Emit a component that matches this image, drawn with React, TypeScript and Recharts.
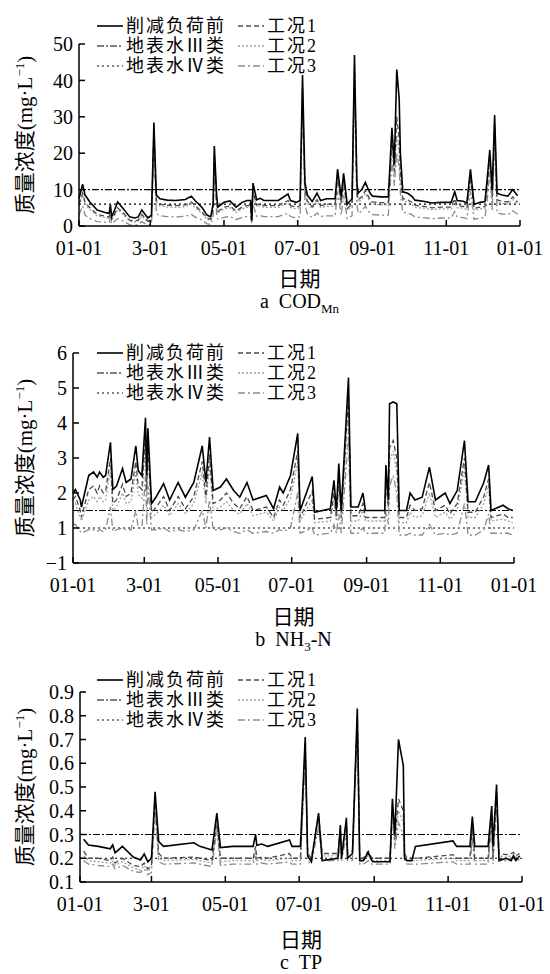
import React from "react"
import { LineChart, Line, XAxis, YAxis, ReferenceLine, Legend } from "recharts"

const FONT = '"Liberation Serif", "Noto Sans CJK SC", serif'

const monthTicks = [0, 59, 120, 181, 243, 304, 365]
const monthLabels = ["01-01", "3-01", "05-01", "07-01", "09-01", "11-01", "01-01"]

// a  COD_Mn
const codDays = [0, 3, 5, 9, 15, 23, 25, 26, 27, 29,
  32, 36, 42, 46, 49, 52, 57, 60, 62, 64,
  67, 73, 80, 88, 93, 96, 102, 106, 109, 111,
  112, 114, 115, 120, 125, 130, 135, 139, 142, 143,
  144, 147, 150, 153, 165, 173, 175, 180, 183, 185,
  187, 189, 193, 197, 200, 205, 212, 214, 217, 219,
  222, 226, 228, 230, 231, 234, 237, 239, 241, 243,
  250, 256, 259, 261, 263, 265, 266, 268, 272, 276,
  278, 285, 292, 300, 308, 311, 313, 318, 321, 324,
  327, 332, 336, 338, 340, 342, 344, 346, 350, 355,
  359, 363]
const codBefore = [7.5, 11.5, 8.5, 6.6, 4.4, 3.6, 3.5, 5.8, 2.5, 4,
  6.6, 5, 2.5, 2.2, 2.5, 4.4, 2.2, 3, 28.4, 8.5,
  7.5, 7.1, 7, 7.3, 8.2, 7, 5, 3, 2.5, 6,
  22, 8, 5.2, 6.5, 6.9, 5.2, 6.5, 7, 7, 1.5,
  11.8, 7.2, 7.6, 7, 7, 8.8, 7, 6.5, 7, 41.5,
  12, 8.5, 6.7, 9, 7, 7.5, 7.5, 15.6, 8, 14.5,
  6, 7.5, 47, 12, 9, 10, 12, 10.4, 9, 8.2,
  8, 8, 27, 17, 43, 35, 20, 9.4, 9, 8,
  7.1, 6.8, 6.3, 6.5, 6.5, 9.4, 7, 6.8, 6.3, 15.6,
  6, 6.5, 6.7, 13.5, 20.9, 9.9, 30.5, 9, 8.5, 8.2,
  10, 8.3]
const codCase1 = [6, 9, 6.5, 5, 3.2, 2.6, 2.5, 4.5, 1.8, 3,
  5, 3.8, 1.6, 1.4, 1.6, 3.2, 1.3, 2, 26, 7,
  6, 5.7, 5.6, 5.8, 6.6, 5.6, 3.8, 2.2, 1.8, 4.8,
  20, 6.5, 4, 5.2, 5.5, 4.1, 5.2, 5.6, 5.6, 1.2,
  9.5, 5.8, 6.1, 5.6, 5.6, 7, 5.6, 5.2, 5.6, 38,
  10, 6.8, 5.3, 7.2, 5.6, 6, 6, 13.5, 6.4, 12.5,
  4.8, 6, 44, 10, 7.2, 8, 9.8, 8.4, 7.2, 6.6,
  6.4, 6.4, 24, 15, 30, 24, 15, 7.5, 7.2, 6.4,
  5.7, 5.4, 5, 5.2, 5.2, 7.5, 5.6, 5.4, 5, 13.5,
  4.8, 5.2, 5.3, 11.5, 19, 8, 28, 7.2, 6.8, 6.6,
  8, 6.6]
const codCase2 = [5.5, 8.5, 6, 4.5, 2.8, 2.2, 2.1, 4, 1.5, 2.6,
  4.5, 3.4, 1.3, 1.1, 1.3, 2.8, 1, 1.7, 25, 6.5,
  5.5, 5.2, 5.1, 5.3, 6, 5.1, 3.4, 1.8, 1.5, 4.4,
  19, 6, 3.6, 4.7, 5, 3.7, 4.7, 5.1, 5.1, 1,
  9, 5.3, 5.5, 5.1, 5.1, 6.4, 5.1, 4.7, 5.1, 36,
  9, 6.2, 4.8, 6.6, 5.1, 5.4, 5.4, 12.5, 5.8, 11.5,
  4.3, 5.4, 42, 9, 6.6, 7.3, 9, 7.7, 6.6, 6,
  5.8, 5.8, 22, 14, 25, 20, 12, 6.9, 6.6, 5.8,
  5.1, 4.9, 4.5, 4.7, 4.7, 6.9, 5, 4.9, 4.5, 12.5,
  4.3, 4.7, 4.8, 10.5, 18, 7.3, 26.5, 6.6, 6.2, 6,
  7.3, 6]
const codCase3 = [3, 5.5, 3, 2, 1.2, 1, 1, 2.5, 0.6, 1.2,
  2, 1.5, 0.3, 0.2, 0.4, 1.2, 0.2, 0.5, 22, 3.5,
  2.8, 2.6, 2.5, 2.7, 3.2, 2.5, 1.6, 0.6, 0.4, 2.5,
  16, 3, 1.8, 2.4, 2.6, 1.8, 2.3, 2.6, 2.6, 0.5,
  6, 2.7, 2.9, 2.6, 2.6, 3.5, 2.6, 2.2, 2.6, 33,
  6, 3.2, 2.3, 3.6, 2.6, 2.8, 2.8, 9.5, 3, 8.5,
  2, 2.8, 39, 6, 3.5, 4, 5.5, 4.3, 3.5, 3.1,
  3, 3, 18, 11, 20, 16, 9, 3.8, 3.6, 3,
  2.5, 2.3, 2, 2.2, 2.2, 4, 2.5, 2.3, 2, 9.5,
  1.8, 2.2, 2.3, 7.5, 15, 4.2, 23, 3.6, 3.3, 3.1,
  4.2, 3.2]
const codStdIII = 10
const codStdIV = 6

// b  NH3-N
const nhDays = [0, 2, 6, 7, 13, 17, 20, 22, 25, 27,
  31, 33, 36, 41, 44, 48, 52, 54, 57, 60,
  61, 62, 65, 69, 75, 80, 87, 93, 100, 107,
  110, 113, 116, 122, 127, 133, 138, 144, 149, 160,
  166, 171, 174, 180, 186, 188, 198, 200, 213, 216,
  218, 220, 222, 228, 230, 236, 240, 242, 258, 259,
  261, 262, 265, 268, 270, 276, 279, 283, 289, 295,
  300, 308, 312, 318, 324, 327, 333, 340, 344, 346,
  356, 360, 364]
const nhBefore = [2.0, 2.1, 1.8, 1.6, 2.5, 2.6, 2.45, 2.6, 2.45, 2.5,
  3.45, 2.1, 2.2, 2.7, 2.3, 2.4, 3.35, 2.64, 2.5, 4.15,
  2.5, 3.85, 1.7, 1.9, 2.27, 1.8, 2.3, 1.88, 2.3, 3.35,
  2.3, 3.6, 2.07, 2.17, 2.4, 2.07, 1.88, 2.3, 1.8, 1.93,
  1.55, 2.17, 2.0, 2.5, 3.7, 1.5, 2.47, 1.45, 1.55, 2.36,
  1.5, 2.84, 1.5, 5.3, 1.6, 1.6, 2.0, 1.5, 1.5, 2.8,
  1.8, 4.55, 4.6, 4.55, 1.5, 1.5, 2.0, 1.8, 1.88, 2.74,
  1.8, 2.0, 1.7, 2.07, 3.5, 1.75, 1.75, 2.3, 2.8, 1.5,
  1.65, 1.55, 1.5]
const nhCase1 = [1.8, 1.9, 1.5, 1.3, 2.1, 2.2, 2.0, 2.2, 2.0, 2.05,
  3.0, 1.7, 1.8, 2.25, 1.9, 2.0, 2.9, 2.2, 2.1, 3.7,
  2.1, 3.4, 1.45, 1.6, 1.9, 1.5, 1.9, 1.55, 1.9, 2.9,
  1.9, 3.1, 1.7, 1.8, 2.0, 1.7, 1.55, 1.9, 1.5, 1.6,
  1.3, 1.8, 1.65, 2.1, 3.2, 1.3, 2.05, 1.25, 1.3, 2.0,
  1.3, 2.4, 1.3, 4.8, 1.35, 1.35, 1.7, 1.3, 1.3, 2.4,
  1.6, 3.3, 3.5, 3.0, 1.3, 1.3, 1.65, 1.5, 1.55, 2.3,
  1.5, 1.65, 1.4, 1.7, 3.0, 1.45, 1.45, 1.9, 2.4, 1.3,
  1.4, 1.3, 1.3]
const nhCase2 = [1.6, 1.7, 1.3, 1.2, 1.8, 1.9, 1.75, 1.9, 1.75, 1.8,
  2.7, 1.5, 1.6, 2.0, 1.7, 1.75, 2.6, 1.95, 1.85, 3.4,
  1.9, 3.1, 1.3, 1.4, 1.65, 1.35, 1.7, 1.4, 1.7, 2.6,
  1.7, 2.8, 1.5, 1.6, 1.75, 1.5, 1.4, 1.7, 1.35, 1.45,
  1.2, 1.6, 1.5, 1.85, 2.9, 1.2, 1.8, 1.15, 1.2, 1.8,
  1.2, 2.2, 1.2, 4.5, 1.2, 1.2, 1.5, 1.2, 1.2, 2.2,
  1.5, 2.9, 3.2, 2.6, 1.15, 1.15, 1.45, 1.3, 1.35, 2.0,
  1.3, 1.45, 1.25, 1.5, 2.7, 1.3, 1.3, 1.7, 2.2, 1.2,
  1.25, 1.2, 1.15]
const nhCase3 = [1.1, 1.1, 0.9, 0.85, 0.95, 0.95, 0.9, 0.95, 0.9, 0.95,
  1.6, 0.9, 0.95, 1.0, 0.95, 0.95, 1.5, 1.0, 1.0, 2.5,
  1.1, 2.2, 0.95, 0.95, 1.0, 0.9, 0.95, 0.9, 0.95, 1.5,
  1.0, 1.8, 0.95, 0.95, 1.0, 0.9, 0.85, 0.95, 0.85, 0.9,
  0.85, 0.95, 0.9, 1.0, 2.0, 0.85, 1.0, 0.8, 0.85, 1.1,
  0.85, 1.4, 0.85, 3.6, 0.85, 0.85, 1.0, 0.85, 0.85, 1.5,
  1.1, 2.2, 2.5, 2.0, 0.8, 0.8, 0.85, 0.8, 0.8, 1.1,
  0.8, 0.85, 0.8, 0.85, 1.7, 0.8, 0.8, 0.95, 1.4, 0.85,
  0.85, 0.85, 0.8]
const nhStdIII = 1.5
const nhStdIV = 1.0
const nhTickText: Record<number, string> = { 0: "\u22121", 1: "1", 2: "2", 3: "3", 4: "4", 5: "5", 6: "6" }

// c  TP
const tpDays = [3, 7, 15, 25, 27, 29, 35, 44, 50, 53,
  56, 59, 62, 65, 69, 94, 99, 109, 113, 116,
  126, 143, 145, 146, 150, 155, 173, 175, 182, 186,
  188, 191, 197, 200, 213, 215, 216, 220, 221, 225,
  229, 231, 234, 238, 241, 242, 256, 258, 260, 263,
  267, 268, 270, 274, 277, 308, 311, 322, 324, 326,
  337, 340, 341, 344, 346, 352, 356, 358, 360, 363]
const tpBefore = [0.28, 0.256, 0.25, 0.24, 0.256, 0.223, 0.25, 0.205, 0.193, 0.218,
  0.185, 0.2, 0.48, 0.27, 0.25, 0.265, 0.25, 0.235, 0.39, 0.245,
  0.25, 0.25, 0.3, 0.255, 0.26, 0.25, 0.277, 0.25, 0.25, 0.71,
  0.21, 0.185, 0.39, 0.19, 0.2, 0.34, 0.2, 0.37, 0.2, 0.22,
  0.83, 0.19, 0.19, 0.225, 0.19, 0.185, 0.185, 0.45, 0.3, 0.7,
  0.59, 0.2, 0.19, 0.19, 0.25, 0.273, 0.25, 0.25, 0.375, 0.25,
  0.25, 0.42, 0.25, 0.51, 0.19, 0.2, 0.19, 0.21, 0.19, 0.21]
const tpCase1 = [0.23, 0.2, 0.2, 0.19, 0.205, 0.18, 0.2, 0.17, 0.165, 0.18,
  0.155, 0.17, 0.45, 0.22, 0.2, 0.205, 0.2, 0.19, 0.36, 0.2,
  0.2, 0.2, 0.25, 0.2, 0.205, 0.2, 0.22, 0.2, 0.2, 0.68,
  0.22, 0.2, 0.38, 0.22, 0.22, 0.32, 0.22, 0.35, 0.22, 0.23,
  0.8, 0.2, 0.2, 0.23, 0.2, 0.2, 0.2, 0.43, 0.28, 0.45,
  0.4, 0.22, 0.2, 0.2, 0.2, 0.215, 0.2, 0.2, 0.33, 0.2,
  0.2, 0.39, 0.2, 0.48, 0.22, 0.215, 0.22, 0.225, 0.21, 0.22]
const tpCase2 = [0.21, 0.19, 0.185, 0.18, 0.19, 0.17, 0.185, 0.16, 0.15, 0.17,
  0.145, 0.16, 0.43, 0.2, 0.19, 0.195, 0.19, 0.18, 0.34, 0.185,
  0.19, 0.19, 0.23, 0.19, 0.195, 0.19, 0.2, 0.19, 0.19, 0.66,
  0.21, 0.19, 0.36, 0.21, 0.21, 0.3, 0.21, 0.33, 0.21, 0.21,
  0.78, 0.19, 0.19, 0.21, 0.19, 0.19, 0.19, 0.41, 0.26, 0.4,
  0.35, 0.21, 0.19, 0.19, 0.19, 0.2, 0.19, 0.19, 0.31, 0.19,
  0.19, 0.37, 0.19, 0.46, 0.21, 0.205, 0.21, 0.215, 0.205, 0.21]
const tpCase3 = [0.19, 0.175, 0.17, 0.165, 0.175, 0.155, 0.17, 0.145, 0.14, 0.155,
  0.13, 0.14, 0.4, 0.185, 0.175, 0.18, 0.175, 0.165, 0.32, 0.17,
  0.175, 0.175, 0.21, 0.175, 0.18, 0.175, 0.185, 0.175, 0.175, 0.62,
  0.19, 0.175, 0.33, 0.19, 0.19, 0.27, 0.19, 0.3, 0.19, 0.19,
  0.74, 0.175, 0.175, 0.19, 0.175, 0.175, 0.175, 0.38, 0.24, 0.35,
  0.3, 0.19, 0.175, 0.175, 0.175, 0.185, 0.175, 0.175, 0.28, 0.175,
  0.175, 0.34, 0.175, 0.42, 0.19, 0.19, 0.2, 0.2, 0.19, 0.195]
const tpStdIII = 0.3
const tpStdIV = 0.2

// line styles
const S_BEFORE = { stroke: "#000", dash: undefined, width: 1.6 }
const S_III = { stroke: "#000", dash: "7 2 2 2", width: 1.2 }
const S_IV = { stroke: "#000", dash: "2 3", width: 1.2 }
const S_C1 = { stroke: "#4a4a4a", dash: "5 3", width: 1.3 }
const S_C2 = { stroke: "#a0a0a0", dash: "2 2", width: 1.3 }
const S_C3 = { stroke: "#8a8a8a", dash: "7 3 2 3", width: 1.3 }

const legendItems = [
  { name: "削减负荷前", s: S_BEFORE, col: 0, row: 0 },
  { name: "地表水Ⅲ类", s: S_III, col: 0, row: 1 },
  { name: "地表水Ⅳ类", s: S_IV, col: 0, row: 2 },
  { name: "工况1", s: S_C1, col: 1, row: 0 },
  { name: "工况2", s: S_C2, col: 1, row: 1 },
  { name: "工况3", s: S_C3, col: 1, row: 2 },
]

function LegendBox() {
  return (
    <div style={{ position: "relative", width: 550, height: 60, fontFamily: FONT, fontSize: 18 }}>
      {legendItems.map((it) => (
        <div key={it.name} style={{ position: "absolute", left: it.col === 0 ? 97 : 238, top: it.row * 20, height: 20, display: "flex", alignItems: "center", whiteSpace: "nowrap", lineHeight: "18px" }}>
          <svg width={26} height={20} style={{ marginRight: 3 }}>
            <line x1={0} x2={26} y1={10} y2={10} stroke={it.s.stroke} strokeWidth={it.s.width} strokeDasharray={it.s.dash} />
          </svg>
          <span style={{ color: "#000", letterSpacing: 2 }}>{it.name}</span>
        </div>
      ))}
    </div>
  )
}

interface PanelProps {
  top: number
  height: number
  plotTop: number
  plotBottom: number
  axisLeft: number
  axisRight: number
  yDomain: [number, number]
  yTicks: number[]
  yFmt: (v: number) => string
  days: number[]
  before: number[]
  case1: number[]
  case2: number[]
  case3: number[]
  stdIII: number
  stdIV: number
  legendTop: number
  xTitleY: number
  captionY: number
  caption: React.ReactNode
}

function Panel(p: PanelProps) {
  const rows = p.days.map((d, i) => ({ day: d, before: p.before[i], c1: p.case1[i], c2: p.case2[i], c3: p.case3[i] }))
  const tickStyle = { fill: "#000", fontSize: 20, fontFamily: FONT }
  const plotMidX = (p.axisLeft + p.axisRight) / 2
  const plotMidY = (p.plotTop + p.plotBottom) / 2
  return (
    <div style={{ position: "absolute", left: 0, top: p.top, width: 550, height: p.height }}>
      <LineChart width={550} height={p.height} data={rows}
        margin={{ top: p.plotTop, right: 550 - p.axisRight, bottom: 0, left: 0 }}>
        <XAxis dataKey="day" type="number" domain={[0, 365]} ticks={monthTicks} interval={0}
          tickFormatter={(v: number) => monthLabels[monthTicks.indexOf(v)]}
          height={p.height - p.plotBottom} tickSize={-6} tickMargin={21}
          stroke="#000" strokeWidth={1.5} tick={tickStyle} />
        <YAxis type="number" domain={p.yDomain} ticks={p.yTicks} interval={0} allowDataOverflow
          tickFormatter={p.yFmt} width={p.axisLeft} tickSize={-6} tickMargin={12}
          stroke="#000" strokeWidth={1.5} tick={tickStyle} />
        <ReferenceLine y={p.stdIII} stroke={S_III.stroke} strokeDasharray={S_III.dash} strokeWidth={S_III.width} />
        <ReferenceLine y={p.stdIV} stroke={S_IV.stroke} strokeDasharray={S_IV.dash} strokeWidth={S_IV.width} />
        <Line dataKey="c3" type="linear" stroke={S_C3.stroke} strokeDasharray={S_C3.dash} strokeWidth={S_C3.width} dot={false} isAnimationActive={false} />
        <Line dataKey="c2" type="linear" stroke={S_C2.stroke} strokeDasharray={S_C2.dash} strokeWidth={S_C2.width} dot={false} isAnimationActive={false} />
        <Line dataKey="c1" type="linear" stroke={S_C1.stroke} strokeDasharray={S_C1.dash} strokeWidth={S_C1.width} dot={false} isAnimationActive={false} />
        <Line dataKey="before" type="linear" stroke={S_BEFORE.stroke} strokeWidth={S_BEFORE.width} dot={false} isAnimationActive={false} />
        <Legend verticalAlign="middle" align="center" content={() => <LegendBox />}
          wrapperStyle={{ top: p.legendTop, left: 0, width: 550 }} />
      </LineChart>
      <div style={{ position: "absolute", left: 22, top: plotMidY, transform: "translate(-50%, -50%) rotate(-90deg)", whiteSpace: "nowrap", fontFamily: FONT, fontSize: 21, lineHeight: "22px" }}>
        质量浓度(mg·L<sup style={{ fontSize: 13 }}>−1</sup>)
      </div>
      <div style={{ position: "absolute", left: plotMidX, top: p.xTitleY, transform: "translate(-50%, -50%)", whiteSpace: "nowrap", fontFamily: FONT, fontSize: 21 }}>
        日期
      </div>
      <div style={{ position: "absolute", left: plotMidX, top: p.captionY, transform: "translate(-50%, -50%)", whiteSpace: "nowrap", fontFamily: FONT, fontSize: 20, lineHeight: "20px" }}>
        {p.caption}
      </div>
    </div>
  )
}

export default function App() {
  return (
    <div style={{ position: "absolute", left: 0, top: 0, width: 550, height: 974, background: "#fff" }}>
      <Panel top={0} height={320} plotTop={44} plotBottom={226} axisLeft={79} axisRight={520}
        yDomain={[0, 50]} yTicks={[0, 10, 20, 30, 40, 50]} yFmt={(v) => String(v)}
        days={codDays} before={codBefore} case1={codCase1} case2={codCase2} case3={codCase3}
        stdIII={codStdIII} stdIV={codStdIV} legendTop={16} xTitleY={277} captionY={305}
        caption={<span>a&nbsp;&nbsp;COD<sub style={{ fontSize: 13 }}>Mn</sub></span>} />
      <Panel top={300} height={360} plotTop={53} plotBottom={263} axisLeft={73} axisRight={514}
        yDomain={[0, 6]} yTicks={[0, 1, 2, 3, 4, 5, 6]} yFmt={(v) => nhTickText[v]}
        days={nhDays} before={nhBefore} case1={nhCase1} case2={nhCase2} case3={nhCase3}
        stdIII={nhStdIII} stdIV={nhStdIV} legendTop={43} xTitleY={315} captionY={343}
        caption={<span>b&nbsp;&nbsp;NH<sub style={{ fontSize: 13 }}>3</sub>-N</span>} />
      <Panel top={640} height={334} plotTop={52} plotBottom={242} axisLeft={80} axisRight={522}
        yDomain={[0.1, 0.9]} yTicks={[0.1, 0.2, 0.3, 0.4, 0.5, 0.6, 0.7, 0.8, 0.9]} yFmt={(v) => v.toFixed(1)}
        days={tpDays} before={tpBefore} case1={tpCase1} case2={tpCase2} case3={tpCase3}
        stdIII={tpStdIII} stdIV={tpStdIV} legendTop={30} xTitleY={298} captionY={322}
        caption={<span>c&nbsp;&nbsp;TP</span>} />
    </div>
  )
}
